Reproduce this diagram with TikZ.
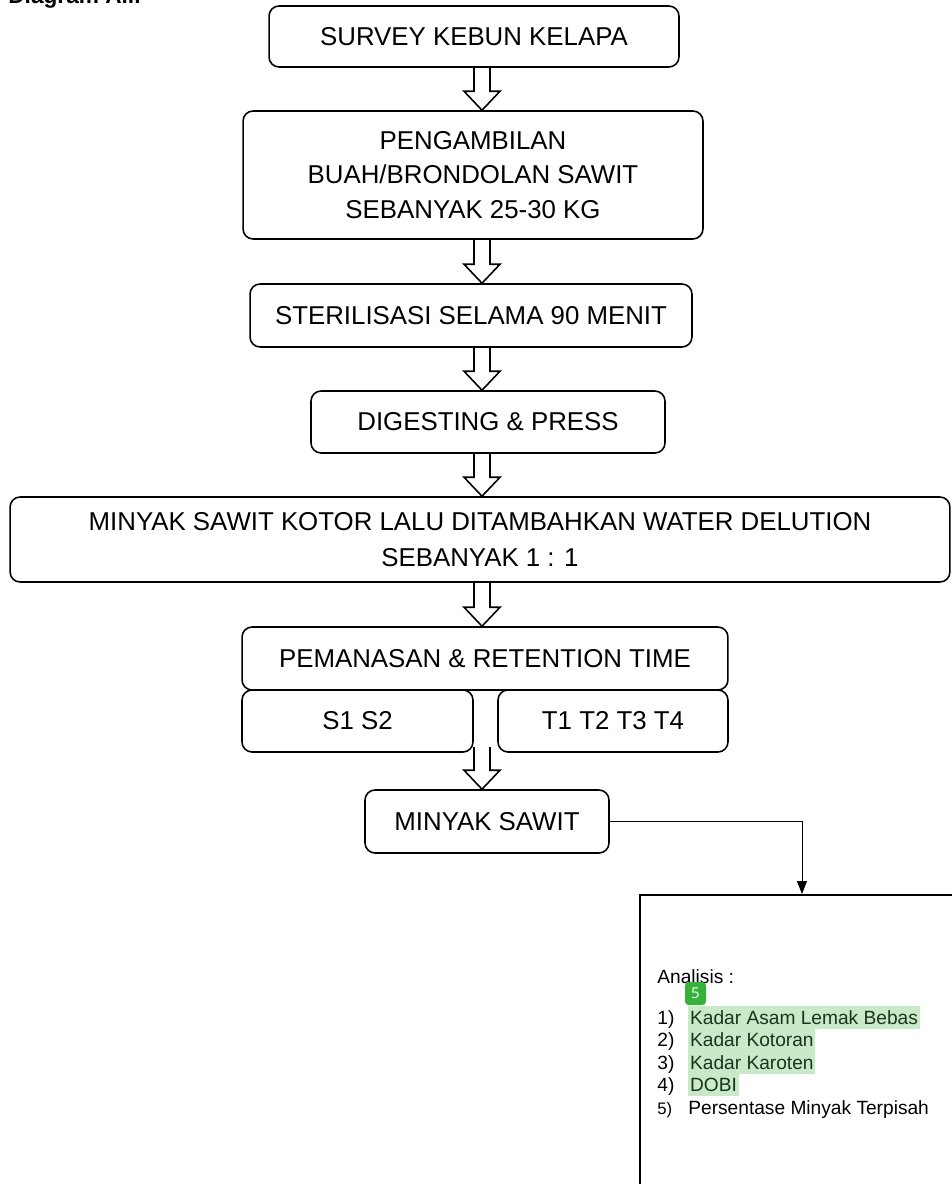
\documentclass[tikz,border=0pt]{standalone}
\usepackage{fontspec}
\setmainfont{Liberation Sans}
\newfontfamily\badgefont{Open Sans}
\usetikzlibrary{arrows.meta,calc}
\definecolor{hlgreen}{RGB}{200,234,200}
\definecolor{badgegreen}{RGB}{52,178,58}
\definecolor{hltext}{RGB}{28,52,28}
\newcommand{\blockarrow}[2]{%
  \draw[block] let \p1=(#1), \p2=(#2) in
    (\x2-0.16cm,\y1) -- (\x2-0.16cm,\y2+0.38cm) -- (\x2-0.36cm,\y2+0.38cm)
    -- (\x2,\y2) -- (\x2+0.36cm,\y2+0.38cm) -- (\x2+0.16cm,\y2+0.38cm) -- (\x2+0.16cm,\y1);}
\begin{document}
\begin{tikzpicture}[x=0.02cm, y=-0.02cm,
  step box/.style={rectangle, draw, line width=0.9pt, rounded corners=0.2cm, align=center,
                   font=\fontsize{14.7}{19.6}\selectfont},
  block/.style={line width=0.9pt, line join=miter},
  link/.style={line width=0.5pt, -{Triangle[length=0.26cm, width=0.2cm]}},
  item/.style={anchor=base west, inner sep=0pt, font=\fontsize{10.9}{13}\selectfont},
  hl/.style={item, fill=hlgreen, text=hltext, inner xsep=1pt, text height=10pt, text depth=2.6pt},
  badge/.style={fill=badgegreen, rounded corners=2pt, text=white, minimum width=0.42cm,
                minimum height=0.46cm, inner sep=0pt, font=\badgefont\fontsize{8.5}{10}\selectfont}
]
  \useasboundingbox (0,0) rectangle (952,1184);
  \coordinate (col) at (482,0);
  \node[anchor=base west, inner sep=0pt, font=\bfseries\fontsize{12.9}{15}\selectfont] (title) at (8,3) {Diagram Alir};

  \node[step box, minimum width=8.2cm, minimum height=1.22cm] (S) at (474,36.5) {SURVEY KEBUN KELAPA};
  \node[step box, minimum width=9.2cm, minimum height=2.56cm] (B) at (473,175) {PENGAMBILAN\\BUAH/BRONDOLAN SAWIT\\SEBANYAK 25-30 KG};
  \node[step box, minimum width=8.84cm, minimum height=1.26cm] (St) at (471,315.5) {STERILISASI SELAMA 90 MENIT};
  \node[step box, minimum width=7.08cm, minimum height=1.24cm] (D) at (488,422) {DIGESTING \& PRESS};
  \node[step box, minimum width=18.8cm, minimum height=1.7cm, font=\fontsize{14.7}{20.4}\selectfont] (K) at (480,539.5) {MINYAK SAWIT KOTOR LALU DITAMBAHKAN WATER DELUTION\\SEBANYAK 1 : 1};
  \node[step box, minimum width=9.72cm, minimum height=1.26cm] (P) at (485,658.5) {PEMANASAN \& RETENTION TIME};
  \node[step box, minimum width=4.62cm, minimum height=1.24cm] (S1) at (357.5,721) {S1 S2};
  \node[step box, minimum width=4.6cm, minimum height=1.24cm] (T) at (613,721) {T1 T2 T3 T4};
  \node[step box, minimum width=4.88cm, minimum height=1.26cm] (M) at (487,821.5) {MINYAK SAWIT};
  \node[draw, line width=0.9pt, anchor=north west, minimum width=8cm, minimum height=8cm] (A) at (639,894) {};
  \coordinate (gap) at (482,747);

  \node[item] (an) at (657,983) {Analisis :};
  \node[badge] (n5) at (695.5,993.5) {5};
  \node[item] (i1) at (657,1024) {1)};
  \node[hl] (t1) at (688,1024) {Kadar Asam Lemak Bebas};
  \node[item] (i2) at (657,1046.5) {2)};
  \node[hl] (t2) at (688,1046.5) {Kadar Kotoran};
  \node[item] (i3) at (657,1069) {3)};
  \node[hl] (t3) at (688,1069) {Kadar Karoten};
  \node[item] (i4) at (657,1091.5) {4)};
  \node[hl] (t4) at (688,1091.5) {DOBI};
  \node[item, font=\fontsize{9.5}{12}\selectfont] (i5) at (657,1114) {5)};
  \node[item] (t5) at (688,1114) {Persentase Minyak Terpisah};

  \blockarrow{S.south -| col}{B.north -| col}
  \blockarrow{B.south -| col}{St.north -| col}
  \blockarrow{St.south -| col}{D.north -| col}
  \blockarrow{D.south -| col}{K.north -| col}
  \blockarrow{K.south -| col}{P.north -| col}
  \blockarrow{gap}{M.north -| gap}
  \draw[link] (M.east) -| ([xshift=3.26cm]A.north west);
\end{tikzpicture}
\end{document}
